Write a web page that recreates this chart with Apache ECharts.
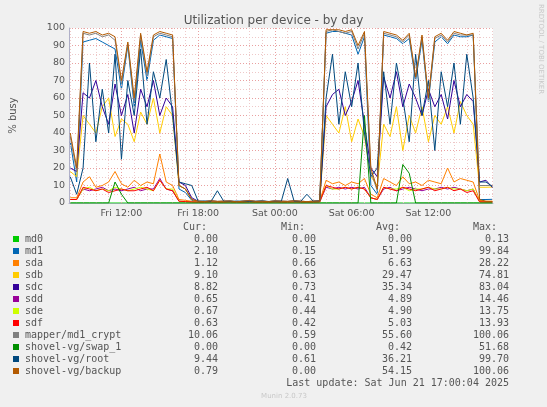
<!DOCTYPE html>
<html>
<head>
<meta charset="utf-8">
<script src="https://cdn.jsdelivr.net/npm/echarts@6/dist/echarts.min.js"></script>
<style>html,body{margin:0;padding:0;background:#f0f0f0}#chart{width:547px;height:407px}</style>
</head>
<body>
<div id="chart"></div>
<script>
// hours since Fri 00:00, one sample every 30 min from Fri 08:00 to Sat 17:00
var startHour = 8, stepHour = 0.5;
var gridHours = [];
for (var g = 8; g <= 41; g++) gridHours.push(g);
var labelHours = [12, 18, 24, 30, 36];
var labelText = ['Fri 12:00', 'Fri 18:00', 'Sat 00:00', 'Sat 06:00', 'Sat 12:00'];

var q = [1,0.8,1.2,0.9,1,1.1,0.7,1,1.3,0.9,1,0.8,1.1,1,0.9,1.2,1,0.8,1,1.1]; // quiet night
function quiet(a){ return a.concat(q); }

var md0 = [];
for (var k = 0; k < 67; k++) md0.push(0);
var md1 = [35,12,92,93,94,92,90,88,65,90,55,93,70,93,96,95,94,8,6,1.5]
  .concat([0.8,0.6,0.9,0.7,0.8,0.9,0.6,0.8,1,0.7,0.8,0.6,0.9,0.8,0.7,1,0.8,0.6,0.8,0.9])
  .concat([97,98,98,97,96,85,95,10,5,96,95,94,91,94,70,93,58,92,95,91,96,95,95,96,2,2,2.1]);
var sda = [3,3,12,15,9,10,12,18,11,9,13,10,12,11,28,12,10,2,1.5,1]
  .concat([0.8,0.8,0.9,0.7,0.8,0.9,0.7,0.8,0.8,0.7,0.8,0.7,0.9,0.8,0.7,0.8,0.8,0.7,0.8,0.9])
  .concat([13,11,12,10,12,11,14,5,3,14,12,10,15,11,12,10,13,12,11,20,12,14,13,12,1.5,1,1.1]);
var sdb = [18,15,50,45,40,55,60,38,48,45,35,52,45,60,40,55,50,10,8,2]
  .concat(q)
  .concat([50,45,40,55,35,48,38,15,10,45,38,55,30,50,40,55,35,50,45,55,40,58,50,45,9,9,9.1]);
var sdc = [20,18,63,60,70,55,45,68,50,62,40,65,55,70,50,60,55,12,10,3]
  .concat(q)
  .concat([55,62,65,50,58,70,45,20,15,72,60,75,55,68,60,50,65,55,62,48,70,55,62,58,12,13,8.8]);
var sdd = [2,2,8,7,8,9,7,8,7,8,9,7,8,8,14,8,7,1,0.8,0.6]
  .concat([0.5,0.5,0.6,0.5,0.5,0.6,0.5,0.5,0.6,0.5,0.5,0.5,0.6,0.5,0.5,0.6,0.5,0.5,0.5,0.6])
  .concat([9,8,9,8,9,8,9,3,2,8,9,7,8,9,8,7,8,8,9,8,9,8,7,8,0.7,0.6,0.65]);
var sde = [2,2,8,9,7,8,7,9,8,7,8,9,8,7,13,8,8,1,0.8,0.6]
  .concat([0.5,0.5,0.6,0.5,0.5,0.6,0.5,0.5,0.6,0.5,0.5,0.5,0.6,0.5,0.5,0.6,0.5,0.5,0.5,0.6])
  .concat([10,8,8,9,8,9,8,3,2,9,8,8,9,7,8,8,9,8,8,9,8,8,7,8,0.7,0.6,0.67]);
var sdf = [2,2,9,8,7,8,6,7,8,7,7,8,9,7,13,8,7,1,0.8,0.6]
  .concat([0.5,0.5,0.6,0.5,0.5,0.6,0.5,0.5,0.6,0.5,0.5,0.5,0.6,0.5,0.5,0.6,0.5,0.5,0.5,0.6])
  .concat([10,9,8,9,8,9,8,3,2,9,8,7,9,8,7,8,9,7,8,9,7,8,6,7,0.7,0.6,0.63]);
var mapper = [38,18,97,96,97,95,96,93,68,91,58,96,73,95,97,96,95,10,8,2]
  .concat(q)
  .concat([98,99,98,97,98,88,97,18,7,97,96,95,92,96,71,95,59,94,96,92,97,96,96,96,10,10,10.06]);
var swap = [0,0,0,0,0,0,0,12,5,0,0,0,0,0,0,0,0,0,0,0]
  .concat([0,0,0,0,0,0,0,0,0,0,0,0,0,0,0,0,0,0,0,0])
  .concat([0,0,0,0,0,0,50,0,0,0,0,0,22,17,0,0,0,0,0,0,0,0,0,0,0,0,0]);
var root = [15,5,20,80,35,65,40,85,25,70,50,88,45,75,60,82,50,12,11,10]
  .concat([1,1.2,0.8,7,1,0.9,1.1,1,0.8,1,1.2,0.9,1,1,14,1,0.8,5,1,1.2])
  .concat([60,85,45,75,55,80,40,15,20,75,45,80,60,35,85,50,70,30,75,55,80,45,85,60,12,12,9.44]);
var backup = [40,20,98,97,98,96,97,95,70,92,60,97,75,96,98,97,96,10,8,2]
  .concat(q)
  .concat([99,99,99,98,99,90,98,20,8,98,97,96,93,97,72,96,60,95,97,93,98,97,96,97,2,1,0.79]);

var names = ['md0','md1','sda','sdb','sdc','sdd','sde','sdf','mapper/md1_crypt','shovel-vg/swap_1','shovel-vg/root','shovel-vg/backup'];
var colors = ['#00CC00','#0066B3','#FF8000','#FFCC00','#330099','#990099','#CCFF00','#FF0000','#808080','#008F00','#00487D','#B35A00'];
var values = [md0,md1,sda,sdb,sdc,sdd,sde,sdf,mapper,swap,root,backup];
var cur = ['0.00','2.10','1.12','9.10','8.82','0.65','0.67','0.63','10.06','0.00','9.44','0.79'];
var mins = ['0.00','0.15','0.66','0.63','0.73','0.41','0.44','0.42','0.59','0.00','0.61','0.00'];
var avgs = ['0.00','51.99','6.63','29.47','35.34','4.89','4.90','5.03','55.60','0.42','36.21','54.15'];
var maxs = ['0.13','99.84','28.22','74.81','83.04','14.46','13.75','13.93','100.06','51.68','99.70','100.06'];

var series = [];
for (var i = 0; i < names.length; i++) {
    var pts = [];
    for (var j = 0; j < values[i].length; j++) pts.push([startHour + j * stepHour, values[i][j]]);
    series.push({
        name: names[i], type: 'line', data: pts, symbol: 'none', silent: true,
        lineStyle: { width: 1, color: colors[i] }, animation: false, z: 3 + i
    });
}
// vertical grid lines
series.push({
    type: 'line', data: [], silent: true, animation: false, z: 1,
    markLine: {
        symbol: 'none', label: { show: false }, silent: true, animation: false,
        data: gridHours.map(function(h) {
            return { xAxis: h, lineStyle: { type: [1, 2], width: 1,
                color: h % 6 === 0 ? '#e9a0a0' : '#eec8c8' } };
        })
    }
});

var mono = 'DejaVu Sans Mono';
var graphic = [
    { type: 'text', right: 3, top: 4, rotation: -Math.PI / 2, x: 538, y: 6,
      style: { text: 'RRDTOOL / TOBI OETIKER', fill: '#c8c8c8', font: '7px DejaVu Sans' } }
];
var head = [['Cur:', 207], ['Min:', 305], ['Avg:', 400], ['Max:', 497]];
head.forEach(function(hh) {
    graphic.push({ type: 'text', x: hh[1], y: 222, style: { text: hh[0], fill: '#555', font: '10px ' + mono, textAlign: 'right' } });
});
for (var r = 0; r < names.length; r++) {
    var y = 234 + r * 12;
    graphic.push({ type: 'rect', shape: { x: 13, y: y + 2, width: 6, height: 6 }, style: { fill: colors[r] } });
    graphic.push({ type: 'text', x: 25, y: y, style: { text: names[r], fill: '#555', font: '10px ' + mono } });
    graphic.push({ type: 'text', x: 218, y: y, style: { text: cur[r], fill: '#555', font: '10px ' + mono, textAlign: 'right' } });
    graphic.push({ type: 'text', x: 316, y: y, style: { text: mins[r], fill: '#555', font: '10px ' + mono, textAlign: 'right' } });
    graphic.push({ type: 'text', x: 412, y: y, style: { text: avgs[r], fill: '#555', font: '10px ' + mono, textAlign: 'right' } });
    graphic.push({ type: 'text', x: 509, y: y, style: { text: maxs[r], fill: '#555', font: '10px ' + mono, textAlign: 'right' } });
}
graphic.push({ type: 'text', x: 509, y: 378, style: { text: 'Last update: Sat Jun 21 17:00:04 2025', fill: '#555', font: '10px ' + mono, textAlign: 'right' } });
graphic.push({ type: 'text', x: 284, y: 393, style: { text: 'Munin 2.0.73', fill: '#c8c8c8', font: '7px DejaVu Sans', textAlign: 'center' } });

var chart = echarts.init(document.getElementById('chart'));
chart.setOption({
    backgroundColor: '#f0f0f0',
    animation: false,
    title: { text: 'Utilization per device - by day', left: 'center', top: 10,
        textStyle: { fontFamily: 'DejaVu Sans', fontSize: 12, fontWeight: 'normal', color: '#555' } },
    grid: { left: 66, right: 54, top: 28, bottom: 204, backgroundColor: '#fff', show: true, borderWidth: 0 },
    xAxis: {
        type: 'value', min: 7.9, max: 41.05,
        axisLine: { lineStyle: { color: '#b0b0c8' } },
        axisTick: { show: false },
        splitLine: { show: false },
        axisLabel: { customValues: labelHours, color: '#555', fontFamily: 'DejaVu Sans', fontSize: 9.5, margin: 6,
            formatter: function(v) { return labelText[labelHours.indexOf(v)]; } }
    },
    yAxis: {
        type: 'value', min: 0, max: 100, interval: 10,
        name: '% busy', nameLocation: 'middle', nameGap: 51, nameRotate: 90,
        nameTextStyle: { color: '#555', fontFamily: 'DejaVu Sans', fontSize: 10 },
        axisLine: { show: true, lineStyle: { color: '#b0b0c8' } },
        axisTick: { show: false },
        axisLabel: { color: '#555', fontFamily: 'DejaVu Sans', fontSize: 9.5, margin: 4 },
        splitLine: { lineStyle: { type: [1, 2], color: '#e9a0a0' } },
        minorTick: { show: false, splitNumber: 2 },
        minorSplitLine: { show: true, lineStyle: { type: [1, 2], color: '#eec8c8' } }
    },
    series: series,
    graphic: graphic
});
</script>
</body>
</html>
